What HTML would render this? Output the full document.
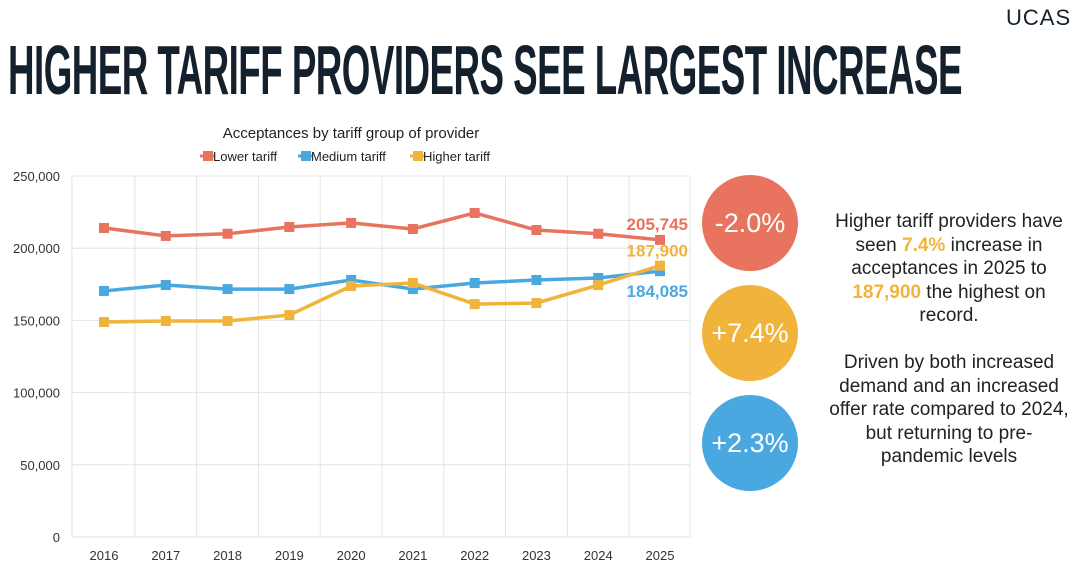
<!DOCTYPE html>
<html><head><meta charset="utf-8"><style>
body{margin:0;width:1080px;height:577px;background:#fff;overflow:hidden;position:relative;font-family:"Liberation Sans",sans-serif;color:#222}
#title{position:absolute;left:8px;top:30px;font-weight:bold;font-size:70px;line-height:80px;color:#14202c;white-space:nowrap;transform-origin:0 0;letter-spacing:-1px}
#logo{position:absolute;left:1006px;top:5px;font-size:22px;color:#14202c;letter-spacing:1px}
.circ{position:absolute;width:96px;height:96px;border-radius:50%;color:#fff;font-size:27px;display:flex;align-items:center;justify-content:center}
#side{position:absolute;left:799px;top:210px;width:300px;text-align:center;font-size:19px;line-height:23.5px;color:#222;white-space:nowrap}
</style></head><body>
<div id="title">HIGHER TARIFF PROVIDERS SEE LARGEST INCREASE</div>
<div id="logo">UCAS</div>
<svg id="chart" width="1080" height="577" style="position:absolute;left:0;top:0"></svg>
<div class="circ" style="left:702px;top:175px;background:#e8735f">-2.0%</div>
<div class="circ" style="left:702px;top:285px;background:#f0b43c">+7.4%</div>
<div class="circ" style="left:702px;top:395px;background:#4aa8e0">+2.3%</div>
<div id="side">Higher tariff providers have<br>seen <b style="color:#f0b43c">7.4%</b> increase in<br>acceptances in 2025 to<br><b style="color:#f0b43c">187,900</b> the highest on<br>record.<br><br>Driven by both increased<br>demand and an increased<br>offer rate compared to 2024,<br>but returning to pre-<br>pandemic levels</div>
<script>
const years=["2016","2017","2018","2019","2020","2021","2022","2023","2024","2025"];
const lowerTariff=[214000,208500,210000,214700,217500,213300,224400,212600,210000,205745];
const mediumTariff=[170400,174500,171700,171700,178000,171700,175900,178000,179400,184085];
const higherTariff=[148900,149600,149600,153700,173800,175900,161300,162000,174500,187900];
const yTicks=[0,50000,100000,150000,200000,250000];
const NS="http://www.w3.org/2000/svg";
const svg=document.getElementById('chart');
const L=72,R=690,T=176,B=537,yMax=250000;
const x=i=>104+i*(660-104)/(years.length-1);
const y=v=>B-(v/yMax)*(B-T);
function mk(tag,attrs,parent){const e=document.createElementNS(NS,tag);for(const k in attrs)e.setAttribute(k,attrs[k]);(parent||svg).appendChild(e);return e;}
mk('rect',{x:L,y:T,width:R-L,height:B-T,fill:'none',stroke:'#e4e4e4'});
yTicks.forEach(t=>{
 const g=mk('line',{x1:L,x2:R,y1:y(t),y2:y(t),stroke:'#e4e4e4'});
 
 
 const tx=mk('text',{x:60,y:y(t)+5,'text-anchor':'end','font-size':13,fill:'#333'});
 tx.textContent=t.toLocaleString('en-US');
 
 
});
years.forEach((yr,i)=>{
 if(i>0){
 const g=mk('line',{x1:(x(i)+x(i-1))/2,x2:(x(i)+x(i-1))/2,y1:T,y2:B,stroke:'#e4e4e4'});
 
 
 }
 const tx=mk('text',{x:x(i),y:560,'text-anchor':'middle','font-size':13,fill:'#333'});
 tx.textContent=yr;
 
 
});
const series=[["lower",lowerTariff,"#e8735f"],["medium",mediumTariff,"#4aa8e0"],["higher",higherTariff,"#f0b43c"]];
series.forEach(([n,d,c])=>{
 const p=mk('polyline',{points:d.map((v,i)=>x(i)+','+y(v)).join(' '),fill:'none',stroke:c,'stroke-width':3.5});
 
 
 d.forEach((v,i)=>{
  const m=mk('rect',{x:x(i)-5,y:y(v)-5,width:10,height:10,fill:c});
  
  
 });
});
const last=years.length-1;
[[lowerTariff,"#e8735f",-10],[higherTariff,"#f0b43c",-9],[mediumTariff,"#4aa8e0",26]].forEach(([d,c,dy])=>{
 const t=mk('text',{x:688,y:y(d[last])+dy,'text-anchor':'end','font-size':17,'font-weight':'bold',fill:c});
 t.textContent=d[last].toLocaleString('en-US');
 
 
});
const ct=mk('text',{x:351,y:138,'text-anchor':'middle','font-size':15,fill:'#222'});
ct.textContent='Acceptances by tariff group of provider';


[["Lower tariff","#e8735f",204],["Medium tariff","#4aa8e0",302],["Higher tariff","#f0b43c",414]].forEach(([l,c,lx])=>{
 const g=mk('g',{});
 
 
 mk('line',{x1:lx-4,x2:lx+10,y1:156,y2:156,stroke:c,'stroke-width':3},g);
 mk('rect',{x:lx-1,y:151,width:10,height:10,fill:c},g);
 const t=mk('text',{x:lx+9,y:161,'font-size':13,fill:'#222'},g);t.textContent=l;
});
const tt=document.getElementById('title');
tt.style.transform='scaleX('+(954/tt.getBoundingClientRect().width)+')';
</script>
</body></html>
